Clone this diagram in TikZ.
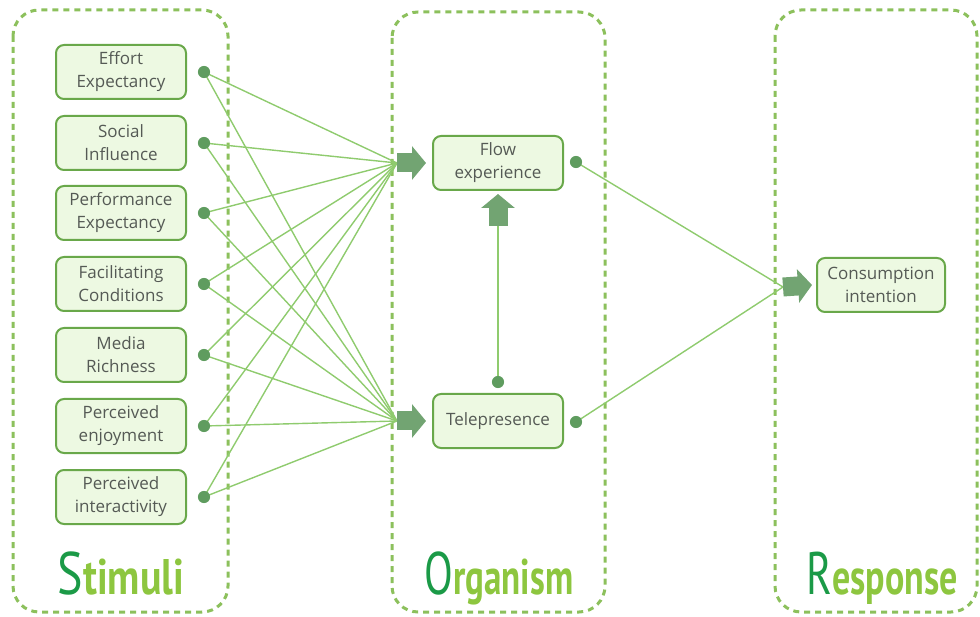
\documentclass[tikz,border=0pt]{standalone}
\usepackage{fontspec}
\setmainfont{Open Sans}
\newfontfamily\titlefont{PT Sans}
\usetikzlibrary{arrows.meta,calc}
\definecolor{boxfill}{HTML}{EDF9E2}
\definecolor{boxline}{HTML}{69A84A}
\definecolor{txt}{HTML}{555A55}
\definecolor{thin}{HTML}{8FCB6E}
\definecolor{dotc}{HTML}{5F9C5F}
\definecolor{fat}{HTML}{72A472}
\definecolor{dash}{HTML}{8CC05C}
\definecolor{dkgreen}{HTML}{1B9A47}
\definecolor{ltgreen}{HTML}{8DC63F}
\tikzset{
  container/.style={draw=dash, line width=3pt, dash pattern=on 6pt off 5pt, rounded corners=26pt},
  factor/.style={draw=boxline, fill=boxfill, line width=2pt, rounded corners=8pt,
    minimum width=130pt, minimum height=54pt, align=center, text=txt,
    font=\fontsize{17}{23}\selectfont, inner sep=2pt},
  link/.style={draw=thin, line width=1.4pt},
  bigarrow/.style={draw=fat, line width=19pt, -{Triangle[width=33pt,length=14pt]}},
  dotmark/.style={circle, fill=dotc, draw=none, inner sep=4.3pt, minimum size=12pt},
  title/.style={anchor=base, inner sep=0pt}
}
\newcommand{\srtitle}[3]{\scalebox{#3}[1]{\titlefont\textcolor{dkgreen}{\fontsize{60}{60}\selectfont #1}\textcolor{ltgreen}{\fontsize{50}{60}\selectfont\bfseries #2}}}
\begin{document}
\begin{tikzpicture}[x=1pt,y=-1pt]
\useasboundingbox (0,0) rectangle (980,617);
% containers
\draw[container] (13,10) rectangle (228,612);
\draw[container] (392,12) rectangle (605,612);
\draw[container] (775,10) rectangle (977,612);
% stimuli
\node[factor] (s1) at (121,72) {Effort\\Expectancy};
\node[factor] (s2) at (121,143) {Social\\Influence};
\node[factor] (s3) at (121,213) {Performance\\Expectancy};
\node[factor] (s4) at (121,284) {Facilitating\\Conditions};
\node[factor] (s5) at (121,355) {Media\\Richness};
\node[factor] (s6) at (121,426) {Perceived\\enjoyment};
\node[factor] (s7) at (121,497) {Perceived\\interactivity};
% organism
\node[factor] (flow) at (498,163) {Flow\\experience};
\node[factor] (tele) at (498,421) {Telepresence};
% response
\node[factor, minimum width=128pt] (ci) at (881,285) {Consumption\\intention};
% convergence points
\coordinate (cf) at (397,163);
\coordinate (ct) at (397,421);
\coordinate (cr) at (783,287);
\coordinate (vb) at (498,226);
% links
\foreach \i in {1,...,7} {
  \coordinate (p\i) at ($(s\i.east)+(17,0)$);
  \draw[link] (p\i) -- (cf);
  \draw[link] (p\i) -- (ct);
}
\coordinate (pf) at ($(flow.east)+(12,-1)$);
\coordinate (pt) at ($(tele.east)+(12,1)$);
\coordinate (pu) at ($(tele.north)+(0,-11)$);
\draw[link] (pf) -- (cr);
\draw[link] (pt) -- (cr);
\draw[link] (pu) -- (vb);
% dots
\foreach \i in {1,...,7} {
  \node[dotmark] (d\i) at (p\i) {};
}
\node[dotmark] (fd) at (pf) {};
\node[dotmark] (td) at (pt) {};
\node[dotmark] (tu) at (pu) {};
% big arrows
\draw[bigarrow] (cf) -- ($(flow.west)+(-6,0)$);
\draw[bigarrow] (ct) -- ($(tele.west)+(-6,0)$);
\draw[bigarrow] (cr) -- ($(ci.west)+(-4,0)$);
\draw[bigarrow] (vb) -- ($(flow.south)+(0,3)$);
% titles
\node[title] (tS) at (121,594) {\srtitle{S}{timuli}{0.8}};
\node[title] (tO) at (499,594) {\srtitle{O}{rganism}{0.7}};
\node[title] (tR) at (882,594) {\srtitle{R}{esponse}{0.72}};
\end{tikzpicture}
\end{document}
